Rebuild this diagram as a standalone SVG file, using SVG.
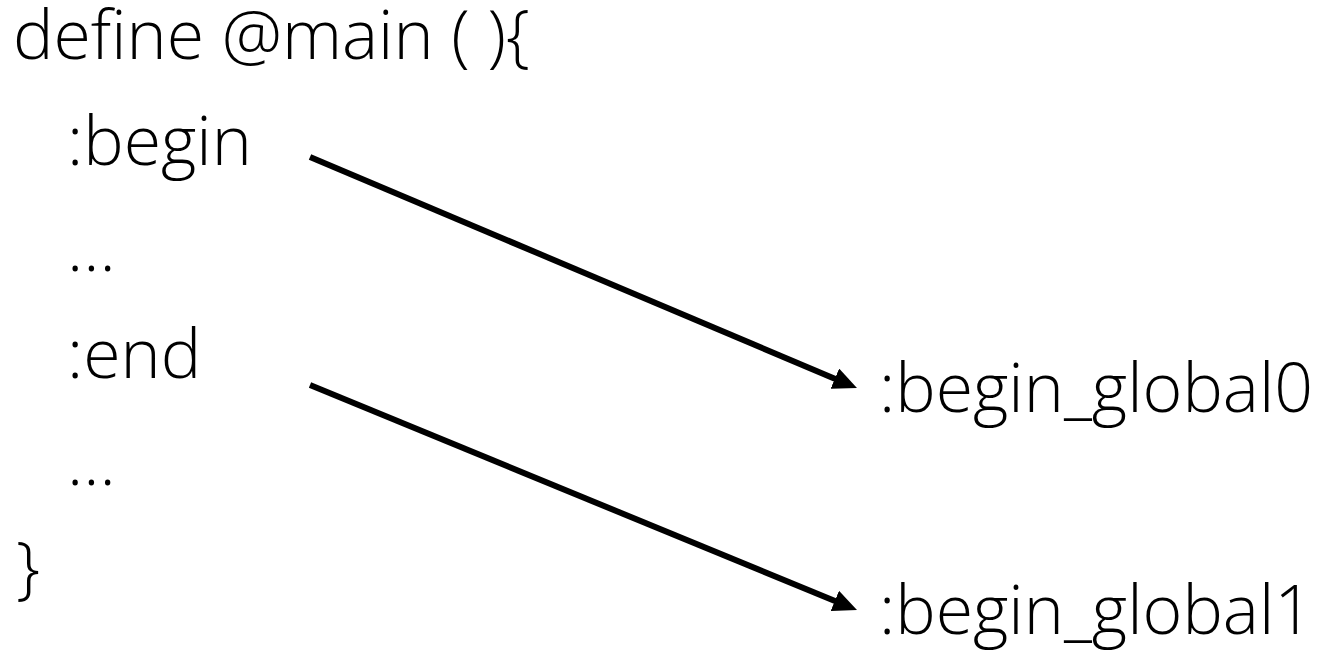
<svg xmlns="http://www.w3.org/2000/svg" width="1326" height="656" viewBox="0 0 1326 656">
<defs>
<style>
.t{font-family:"Open Sans","Liberation Sans",sans-serif;font-weight:300;font-size:68px;fill:#000}
.c{stroke:#000;stroke-width:6;fill:none}
</style>
<marker id="ah" markerUnits="userSpaceOnUse" markerWidth="24" markerHeight="22" viewBox="0 0 24 22" refX="16" refY="11" orient="auto">
<path d="M0,0 L24,11 L0,22 z" fill="#000"/>
</marker>
</defs>
<rect width="1326" height="656" fill="#fff"/>
<g id="code">
<text class="t" x="13" y="59">define @main ( ){</text>
<text class="t" x="67" y="165">:begin</text>
<text class="t" x="67" y="271">…</text>
<text class="t" x="67" y="378">:end</text>
<text class="t" x="67" y="485">…</text>
<text class="t" x="16" y="591">}</text>
</g>
<g id="label0"><text class="t" x="879" y="412">:begin_global0</text></g>
<g id="label1"><text class="t" x="879" y="634">:begin_global1</text></g>
<g id="connectors">
<line class="c" x1="310" y1="157" x2="849.6" y2="384.9" marker-end="url(#ah)"/>
<line class="c" x1="310" y1="385" x2="849.6" y2="607" marker-end="url(#ah)"/>
</g>
</svg>
